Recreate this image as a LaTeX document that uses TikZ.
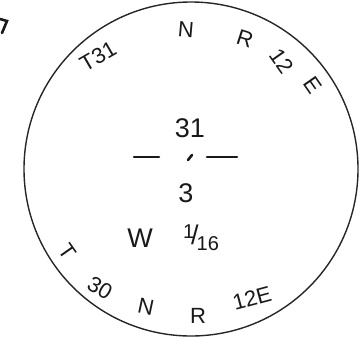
\documentclass[tikz,border=0pt]{standalone}
\usepackage{fontspec}
\setmainfont{Liberation Sans}
\usepackage{tikz}
\usetikzlibrary{positioning,calc}

\begin{document}
\begin{tikzpicture}[x=1pt, y=-1pt,
  ink/.style={line width=1.4pt, color=black!85},
  hand/.style={font=\fontsize{22}{24}\selectfont, inner sep=0pt, text=black!90},
  big/.style={font=\fontsize{27}{30}\selectfont, inner sep=0pt, text=black!90},
  stroke/.style={line width=2.6pt, line cap=round, color=black!90}
]
\useasboundingbox (0,0) rectangle (363,343);

% section circle
\coordinate (ctr) at (191,169);
\draw[ink] (ctr) circle[radius=167pt];

% cut-off mark at the corner
\draw[stroke] (0,19) -- (7,21) -- (2,33);

% township / range along the top
\node[hand, rotate=30] (ttop) at (98,56) {T31};
\node[hand, rotate=-5] (ntop) at (186,30) {N};
\node[hand, rotate=-18] (rtop) at (245,39) {R};
\node[hand, rotate=-55] (rngtop) at (282,61) {12};
\node[hand, rotate=-55] (etop) at (313,85) {E};

% section number
\node[big] (secno) at (190,128) {31};
\coordinate (dot) at (190,157);
\draw[stroke] (134,157) -- (159,157);
\draw[stroke] (207,157) -- (237,157);
\draw[stroke] ($(dot)+(-2,3)$) -- ($(dot)+(2,-2)$);
\node[big] (qtr) at (186,193) {3};
\node[big] (west) at (140,238) {W};
\node[big] (frac) at (201,238) {\raisebox{6pt}{\fontsize{20}{22}\selectfont 1}\kern-3pt/\kern-2pt\raisebox{-6pt}{\fontsize{20}{22}\selectfont 16}};

% township / range along the bottom
\node[hand, rotate=-55] (tbot) at (68,252) {T};
\node[hand, rotate=-30] (nbot30) at (100,288) {30};
\node[hand, rotate=-12] (nbot) at (146,307) {N};
\node[hand] (rbot) at (198,316) {R};
\node[hand, rotate=15] (rngbot) at (252,298) {12E};

\end{tikzpicture}
\end{document}
